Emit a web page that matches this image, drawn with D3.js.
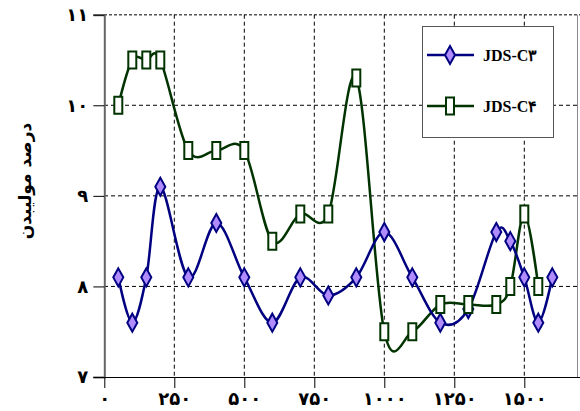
<!DOCTYPE html>
<html><head><meta charset="utf-8">
<script src="https://cdn.jsdelivr.net/npm/d3@7"></script>
<style>body{margin:0;background:#fff}svg{display:block}</style>
</head><body>
<svg id="c" width="580" height="411"></svg>
<script>
const xBlue = [50,100,150,200,300,400,500,600,700,800,900,1000,1100,1200,1300,1400,1450,1500,1550,1600];
const yBlue = [8.1,7.6,8.1,9.1,8.1,8.7,8.1,7.6,8.1,7.9,8.1,8.6,8.1,7.6,7.75,8.6,8.5,8.1,7.6,8.1];
const xGreen = [50,100,150,200,300,400,500,600,700,800,900,1000,1100,1200,1300,1400,1450,1500,1550];
const yGreen = [10.0,10.5,10.5,10.5,9.5,9.5,9.5,8.5,8.8,8.8,10.3,7.5,7.5,7.8,7.8,7.8,8.0,8.8,8.0];
const seriesNames = ["JDS-C۳","JDS-C۴"];
const yTicks = [7,8,9,10,11];
const yTickLabels = ["۷","۸","۹","۱۰","۱۱"];
const xTicks = [0,250,500,750,1000,1250,1500];
const xTickLabels = ["۰","۲۵۰","۵۰۰","۷۵۰","۱۰۰۰","۱۲۵۰","۱۵۰۰"];
const yTitle = "درصد موليبدن";

const svg = d3.select("#c");
const x = d3.scaleLinear().domain([0,1750]).range([104.3,594.3]);
const y = d3.scaleLinear().domain([7,11]).range([377,14.7]);
const digitFont = "'DejaVu Sans', sans-serif";

// gridlines
const g = svg.append("g");
g.selectAll("line.h").data([8,9,10]).join("line")
  .attr("x1",104).attr("x2",580).attr("y1",d=>y(d)).attr("y2",d=>y(d))
  .attr("stroke","#000").attr("stroke-width",1).attr("stroke-dasharray","4,3");
g.append("line").attr("x1",104).attr("x2",580).attr("y1",y(11)).attr("y2",y(11))
  .attr("stroke","#555").attr("stroke-width",1.5).attr("stroke-dasharray","3,2");
g.selectAll("line.v").data(xTicks.slice(1)).join("line")
  .attr("x1",d=>x(d)).attr("x2",d=>x(d)).attr("y1",y(11)).attr("y2",y(7))
  .attr("stroke","#000").attr("stroke-width",1).attr("stroke-dasharray","4,3");
g.append("line").attr("x1",577.5).attr("x2",577.5).attr("y1",y(11)).attr("y2",y(7))
  .attr("stroke","#888").attr("stroke-width",1);

// axes
const yAxis = svg.append("g").attr("transform","translate(104.3,0)")
  .call(d3.axisLeft(y).tickValues(yTicks).tickSize(11).tickPadding(5)
    .tickFormat((d,i)=>yTickLabels[i]));
yAxis.select(".domain").attr("stroke","#666").attr("stroke-width",2);
yAxis.selectAll(".tick line").attr("stroke","#000");
yAxis.selectAll("text").attr("font-family",digitFont).attr("font-weight","bold")
  .attr("font-size",18).attr("fill","#000");

const xAxis = svg.append("g").attr("transform","translate(0,377)")
  .call(d3.axisBottom(x).tickValues(xTicks).tickSize(11).tickSizeOuter(0).tickPadding(4)
    .tickFormat((d,i)=>xTickLabels[i]));
xAxis.select(".domain").attr("stroke","#000").attr("stroke-width",1.2);
xAxis.selectAll(".tick line").attr("stroke","#000");
xAxis.selectAll("text").attr("font-family",digitFont).attr("font-weight","bold")
  .attr("font-size",18).attr("fill","#000");

// y title
svg.append("text").attr("transform","translate(26,181) rotate(-90)")
  .attr("text-anchor","middle").attr("dominant-baseline","middle")
  .attr("font-family",digitFont).attr("font-weight","bold").attr("font-size",17)
  .text(yTitle);

const curve = d3.curveCatmullRom.alpha(0);
const blueData = xBlue.map((v,i)=>[v,yBlue[i]]);
const greenData = xGreen.map((v,i)=>[v,yGreen[i]]);
const line = d3.line().x(d=>x(d[0])).y(d=>y(d[1])).curve(curve);

const blueCol = "#000080", blueFill = "#b08cff", greenCol = "#003300";

svg.append("path").datum(greenData).attr("d",line).attr("fill","none")
  .attr("stroke",greenCol).attr("stroke-width",2.5);
svg.append("path").datum(blueData).attr("d",line).attr("fill","none")
  .attr("stroke",blueCol).attr("stroke-width",2.5);

function diamond(sel){
  sel.attr("d","M0,-9L5,0L0,9L-5,0Z").attr("fill",blueFill).attr("stroke",blueCol).attr("stroke-width",2);
}
function rect(sel){
  sel.attr("d","M-4,-8.5H4V8.5H-4Z").attr("fill","#fff").attr("stroke",greenCol).attr("stroke-width",2);
}
svg.append("g").selectAll("path").data(blueData).join("path")
  .attr("transform",d=>`translate(${x(d[0])},${y(d[1])})`).call(diamond);
svg.append("g").selectAll("path").data(greenData).join("path")
  .attr("transform",d=>`translate(${x(d[0])},${y(d[1])})`).call(rect);

// legend
const lg = svg.append("g");
lg.append("rect").attr("x",422.5).attr("y",26.5).attr("width",131).attr("height",111)
  .attr("fill","#fff").attr("stroke","#555").attr("stroke-width",1);
const items = [{c:blueCol,m:diamond,yy:55},{c:greenCol,m:rect,yy:106}];
items.forEach((it,i)=>{
  lg.append("line").attr("x1",427).attr("x2",474).attr("y1",it.yy).attr("y2",it.yy)
    .attr("stroke",it.c).attr("stroke-width",2.5);
  lg.append("path").attr("transform",`translate(450,${it.yy})`).call(it.m);
  lg.append("text").attr("x",483).attr("y",it.yy).attr("dominant-baseline","central")
    .attr("font-family","'Liberation Serif', serif").attr("font-weight","bold")
    .attr("font-size",16).attr("fill","#000").text(seriesNames[i]);
});
</script>
</body></html>
